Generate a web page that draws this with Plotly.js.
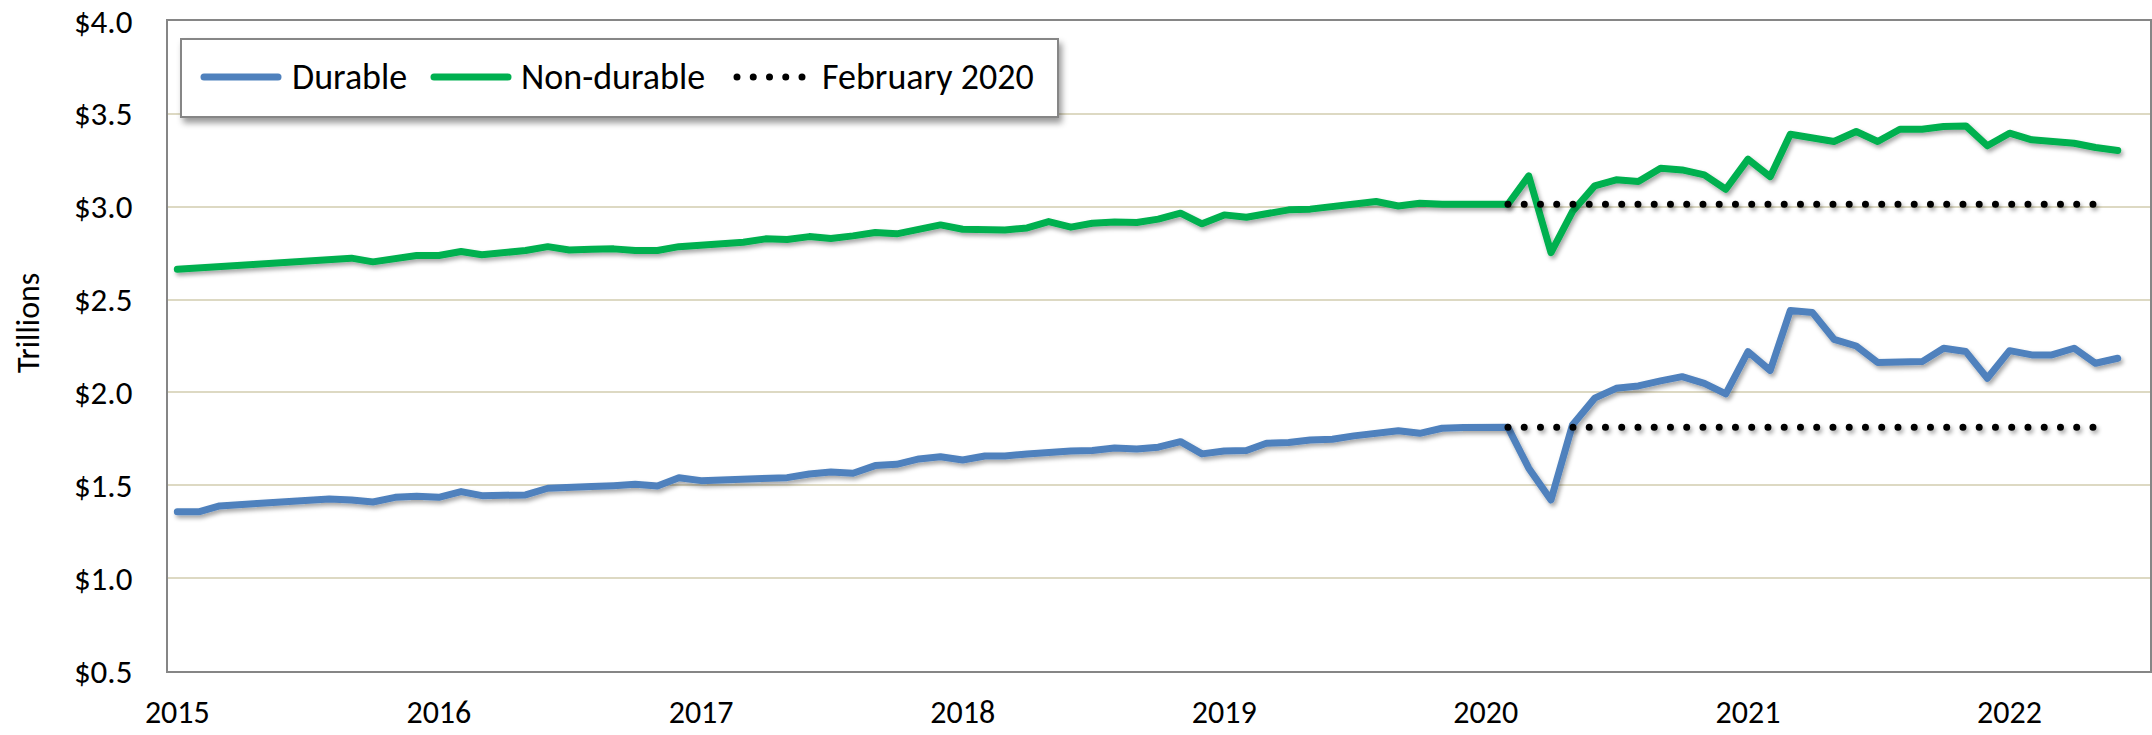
<!DOCTYPE html>
<html><head><meta charset="utf-8">
<script src="https://cdn.plot.ly/plotly-3.0.1.min.js"></script>
<style>
html,body{margin:0;padding:0;background:#fff;}
#chart{width:2152px;height:735px;}
.scatterlayer path.js-line{stroke-linecap:round !important;stroke-linejoin:round !important;}
</style></head>
<body>
<svg width="0" height="0" style="position:absolute">
<defs>
<filter id="lineShadow" filterUnits="userSpaceOnUse" x="-600" y="-600" width="4000" height="2400">
<feDropShadow dx="2" dy="3" stdDeviation="2" flood-color="#000" flood-opacity="0.35"/>
</filter>
<filter id="boxShadow" filterUnits="userSpaceOnUse" x="-600" y="-600" width="4000" height="2400">
<feDropShadow dx="3" dy="5" stdDeviation="3" flood-color="#000" flood-opacity="0.4"/>
</filter>
</defs></svg>
<div id="chart"></div>
<script>
// ---- data ----
const months = [
 "2015-01","2015-02","2015-03","2015-04","2015-05","2015-06","2015-07","2015-08","2015-09","2015-10","2015-11","2015-12",
 "2016-01","2016-02","2016-03","2016-04","2016-05","2016-06","2016-07","2016-08","2016-09","2016-10","2016-11","2016-12",
 "2017-01","2017-02","2017-03","2017-04","2017-05","2017-06","2017-07","2017-08","2017-09","2017-10","2017-11","2017-12",
 "2018-01","2018-02","2018-03","2018-04","2018-05","2018-06","2018-07","2018-08","2018-09","2018-10","2018-11","2018-12",
 "2019-01","2019-02","2019-03","2019-04","2019-05","2019-06","2019-07","2019-08","2019-09","2019-10","2019-11","2019-12",
 "2020-01","2020-02","2020-03","2020-04","2020-05","2020-06","2020-07","2020-08","2020-09","2020-10","2020-11","2020-12",
 "2021-01","2021-02","2021-03","2021-04","2021-05","2021-06","2021-07","2021-08","2021-09","2021-10","2021-11","2021-12",
 "2022-01","2022-02","2022-03","2022-04","2022-05","2022-06"
];
const durable = [
 1.358,1.358,1.389,1.396,1.400,1.403,1.416,1.426,1.421,1.410,1.435,1.441,
 1.435,1.466,1.444,1.444,1.448,1.484,1.493,1.493,1.498,1.505,1.496,1.541,
 1.525,1.529,1.529,1.538,1.541,1.561,1.572,1.565,1.606,1.613,1.642,1.654,
 1.636,1.658,1.658,1.669,1.681,1.685,1.687,1.701,1.696,1.705,1.735,1.669,
 1.685,1.687,1.726,1.730,1.744,1.748,1.766,1.777,1.794,1.780,1.807,1.811,
 1.815,1.812,1.592,1.421,1.825,1.969,2.022,2.035,2.062,2.085,2.049,1.992,
 2.220,2.118,2.441,2.430,2.286,2.250,2.161,2.161,2.166,2.238,2.220,2.076,
 2.225,2.202,2.202,2.238,2.157,2.184
];
const nonDurable = [
 2.663,2.671,2.680,2.683,2.696,2.696,2.710,2.712,2.723,2.703,2.723,2.737,
 2.737,2.759,2.741,2.750,2.764,2.785,2.767,2.771,2.773,2.764,2.764,2.785,
 2.791,2.798,2.809,2.827,2.823,2.839,2.829,2.843,2.861,2.854,2.875,2.902,
 2.879,2.875,2.875,2.886,2.920,2.890,2.911,2.918,2.915,2.933,2.965,2.908,
 2.956,2.943,2.961,2.983,2.987,3.001,3.008,3.028,3.004,3.019,3.013,3.010,
 3.013,3.013,3.166,2.753,2.974,3.112,3.145,3.136,3.207,3.198,3.171,3.094,
 3.256,3.162,3.390,3.374,3.351,3.405,3.351,3.417,3.417,3.432,3.435,3.328,
 3.396,3.360,3.355,3.342,3.319,3.303
];
const feb2020Months = ["2020-02","2022-05"];
const feb2020Durable = [1.812, 1.812];
const feb2020NonDurable = [3.013, 3.013];
const seriesNames = ["Durable","Non-durable","February 2020"];
const yTicks = [0.5,1.0,1.5,2.0,2.5,3.0,3.5,4.0];
const yTickLabels = ["$0.5","$1.0","$1.5","$2.0","$2.5","$3.0","$3.5","$4.0"];
const yAxisTitle = "Trillions";

// ---- styling / layout ----
const W = 2152, H = 735;
const M = {l:168, r:2, t:21, b:64};
const PW = W - M.l - M.r, PH = H - M.t - M.b;
const px = x => (x - M.l) / PW;
const py = y => (H - M.b - y) / PH;

const BLUE = "#4F81BD", GREEN = "#00B050";
const FONT = "Carlito, Calibri, Lato, sans-serif";
const LW = 7;
const DOTS = "0px,16.25px";

const traces = [
 {x: months, y: durable, name: seriesNames[0], type: "scatter", mode: "lines",
  line: {color: BLUE, width: LW}, showlegend: false, hoverinfo: "skip"},
 {x: months, y: nonDurable, name: seriesNames[1], type: "scatter", mode: "lines",
  line: {color: GREEN, width: LW}, showlegend: false, hoverinfo: "skip"},
 {x: feb2020Months, y: feb2020Durable, name: seriesNames[2], type: "scatter", mode: "lines",
  line: {color: "#000", width: LW, dash: DOTS}, showlegend: false, hoverinfo: "skip"},
 {x: feb2020Months, y: feb2020NonDurable, name: seriesNames[2], type: "scatter", mode: "lines",
  line: {color: "#000", width: LW, dash: DOTS}, showlegend: false, hoverinfo: "skip"}
];

// legend drawn as shapes + text
const legY = 77;
const legendItems = [
 {x0: 204, x1: 278, tx: 290, color: BLUE, dash: "solid", label: seriesNames[0]},
 {x0: 434, x1: 508, tx: 519, color: GREEN, dash: "solid", label: seriesNames[1]},
 {x0: 737, x1: 810, tx: 820, color: "#000", dash: DOTS, label: seriesNames[2]}
];
const shapes = [
 {type: "rect", xref: "paper", yref: "paper", layer: "above",
  x0: px(181), x1: px(1058), y0: py(39), y1: py(117),
  fillcolor: "#fff", line: {color: "#868686", width: 2}}
];
const annotations = [];
legendItems.forEach(it => {
 shapes.push({type: "line", xref: "paper", yref: "paper", layer: "above",
  x0: px(it.x0), x1: px(it.x1), y0: py(legY), y1: py(legY),
  line: {color: it.color, width: LW, dash: it.dash}});
 annotations.push({xref: "paper", yref: "paper", x: px(it.tx), y: py(legY),
  xanchor: "left", yanchor: "middle", showarrow: false, text: it.label,
  font: {family: FONT, size: 36, color: "#000"}});
});
annotations.push({xref: "paper", yref: "paper", x: px(28), y: py(323),
 xanchor: "center", yanchor: "middle", showarrow: false, textangle: -90,
 text: yAxisTitle, font: {family: FONT, size: 32, color: "#000"}});

const layout = {
 width: W, height: H, margin: M,
 paper_bgcolor: "#fff", plot_bgcolor: "#fff",
 font: {family: FONT, color: "#000"},
 showlegend: false,
 xaxis: {type: "date", range: ["2014-12-19", "2022-07-16"],
  tick0: "2015-01-01", dtick: "M12", tickformat: "%Y",
  showgrid: false, zeroline: false, ticks: "",
  showline: true, linecolor: "#868686", linewidth: 2, mirror: true,
  tickfont: {family: FONT, size: 32, color: "#000"}, ticklabelstandoff: 12},
 yaxis: {range: [0.5, 4.0], tickmode: "array", tickvals: yTicks, ticktext: yTickLabels,
  showgrid: true, gridcolor: "#DDD9C3", gridwidth: 2, zeroline: false, ticks: "",
  showline: true, linecolor: "#868686", linewidth: 2, mirror: true,
  tickfont: {family: FONT, size: 33, color: "#000"}, ticklabelstandoff: 27},
 shapes: shapes, annotations: annotations
};

Plotly.newPlot("chart", traces, layout, {staticPlot: true}).then(gd => {
 gd.querySelectorAll(".scatterlayer .trace").forEach(g => g.setAttribute("filter", "url(#lineShadow)"));
 const sp = gd.querySelectorAll(".layer-above .shapelayer path");
 sp.forEach((p, i) => {
  if (i === 0) p.setAttribute("filter", "url(#boxShadow)");
  else { p.style.strokeLinecap = "round"; }
 });
});
</script>
</body></html>
